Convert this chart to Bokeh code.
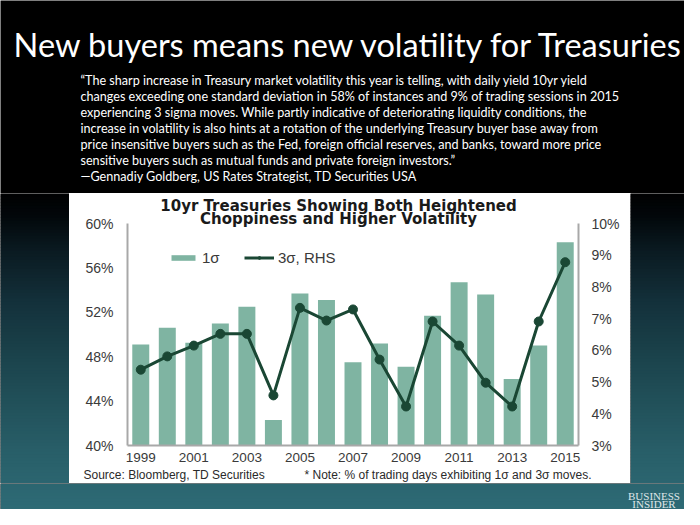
from bokeh.plotting import figure
from bokeh.layouts import column, row
from bokeh.models import (Range1d, LinearAxis, FixedTicker, PrintfTickFormatter, Label,
                          Legend, LegendItem)
from bokeh.embed import file_html
from bokeh.resources import INLINE

# ---------------- data ----------------
years = [1999, 2000, 2001, 2002, 2003, 2004, 2005, 2006, 2007,
         2008, 2009, 2010, 2011, 2012, 2013, 2014, 2015]
one_sigma = [49.1, 50.6, 49.25, 51.0, 52.5, 42.3, 53.7, 53.1, 47.5,
             49.2, 47.1, 51.7, 54.7, 53.6, 46.0, 49.0, 58.3]
three_sigma = [5.39, 5.81, 6.15, 6.52, 6.52, 4.58, 7.34, 6.94, 7.29,
               5.71, 4.23, 6.91, 6.15, 4.98, 4.23, 6.91, 8.78]
left_ticks = [40, 44, 48, 52, 56, 60]
right_ticks = [3, 4, 5, 6, 7, 8, 9, 10]
year_ticks = [1999, 2001, 2003, 2005, 2007, 2009, 2011, 2013, 2015]

title_text = "New buyers means new volatility for Treasuries"
quote_lines = [
    "\u201cThe sharp increase in Treasury market volatility this year is telling, with daily yield 10yr yield",
    "changes exceeding one standard deviation in 58% of instances and 9% of trading sessions in 2015",
    "experiencing 3 sigma moves. While partly indicative of deteriorating liquidity conditions, the",
    "increase in volatility is also hints at a rotation of the underlying Treasury buyer base away from",
    "price insensitive buyers such as the Fed, foreign official reserves, and banks, toward more price",
    "sensitive buyers such as mutual funds and private foreign investors.\u201d",
    "\u2014Gennadiy Goldberg, US Rates Strategist, TD Securities USA",
]
chart_title_lines = ["10yr Treasuries Showing Both Heightened", "Choppiness and Higher Volatility"]
source_text = "Source: Bloomberg, TD Securities"
note_text = "* Note: % of trading days exhibiting 1\u03c3 and 3\u03c3 moves."
brand_lines = ["BUSINESS", "INSIDER"]

# ---------------- layout geometry (page pixels) ----------------
W, H = 684, 509
BOX_L, BOX_R, BOX_T, BOX_B = 69, 630, 193, 483      # white chart panel
FR_L, FR_R, FR_B = 127, 578, 445                    # plot frame edges
Y_TOP_TICK = 223                                    # where 60% / 10% sit
CHART_B = 469                                       # chart figure bottom

BAR_COLOR = "#7fb4a2"
LINE_COLOR = "#1a4734"
AXIS_COLOR = "#a8a8a8"
TICK_TEXT = "#3a3a3a"
AX_FONT = "Liberation Sans"
TXT_FONT = "Lato"

stops = [(190, (0, 0, 0)), (215, (2, 7, 10)), (250, (10, 26, 33)), (300, (19, 48, 58)),
         (350, (26, 65, 74)), (400, (33, 80, 89)), (450, (40, 94, 104)),
         (500, (45, 105, 116)), (530, (47, 110, 121))]


def grad(ry):
    if ry <= stops[0][0]:
        return "#000000"
    for (y0, c0), (y1, c1) in zip(stops[:-1], stops[1:]):
        if y0 <= ry <= y1:
            t = (ry - y0) / (y1 - y0)
            return "#%02x%02x%02x" % tuple(int(round(a + (b - a) * t)) for a, b in zip(c0, c1))
    return "#%02x%02x%02x" % stops[-1][1]


def blank(width, height, x0, x1, y0, y1, bg="#000000"):
    f = figure(width=width, height=height, x_range=Range1d(x0, x1), y_range=Range1d(y1, y0),
               output_backend="svg", toolbar_location=None, min_border=0,
               x_axis_location=None, y_axis_location=None)
    f.frame_align = False
    f.xgrid.grid_line_color = None
    f.ygrid.grid_line_color = None
    f.outline_line_color = None
    f.background_fill_color = bg
    f.border_fill_color = bg
    return f


def paint_gradient(f, x0, x1, y0, y1, step=3):
    tops, bots, cols = [], [], []
    y = y0
    while y < y1:
        tops.append(y)
        bots.append(min(y + step + 0.6, y1))
        cols.append(grad(y + step / 2))
        y += step
    f.quad(left=x0, right=x1, top=tops, bottom=bots, fill_color=cols, line_color=None)


def txt(f, x, y, text, font, size, color, align="left", style="normal", **kw):
    f.add_layout(Label(x=x, y=y, text=text, text_font=font, text_font_size=size,
                       text_color=color, text_align=align, text_baseline="middle",
                       text_font_style=style, **kw))


# ---------------- header ----------------
header = blank(W, BOX_T, 0, W, 0, BOX_T)
txt(header, 349, 43.5, title_text, TXT_FONT, "32.5px", "#ffffff", align="center")
q_mid = [79.5, 95.5, 111.5, 127.5, 143.5, 159.5, 176]
for line, m in zip(quote_lines, q_mid):
    txt(header, 80, m, line, TXT_FONT, "12.6px", "#ffffff")

# ---------------- side gradients ----------------
left_g = blank(BOX_L, BOX_B - BOX_T, 0, BOX_L, BOX_T, BOX_B)
paint_gradient(left_g, 0, BOX_L, BOX_T, BOX_B)
right_g = blank(W - BOX_R, BOX_B - BOX_T, BOX_R, W, BOX_T, BOX_B)
paint_gradient(right_g, BOX_R, W, BOX_T, BOX_B)

# ---------------- footer ----------------
footer = blank(W, H - BOX_B, 0, W, BOX_B, H)
paint_gradient(footer, 0, W, BOX_B, H)
for line, m in zip(brand_lines, [495.5, 503.5]):
    txt(footer, 653.5, m, line, "Liberation Serif", "11px", "#dfe6e8", align="center")

# ---------------- chart ----------------
px_left = (FR_B - Y_TOP_TICK) / (left_ticks[-1] - left_ticks[0])
px_right = (FR_B - Y_TOP_TICK) / (right_ticks[-1] - right_ticks[0])
y_end_left = left_ticks[-1] + (Y_TOP_TICK - BOX_T) / px_left
y_end_right = right_ticks[-1] + (Y_TOP_TICK - BOX_T) / px_right

chart = figure(width=BOX_R - BOX_L, height=CHART_B - BOX_T,
               x_range=Range1d(years[0] - 0.5, years[-1] + 0.5),
               y_range=Range1d(left_ticks[0], y_end_left),
               output_backend="svg", toolbar_location=None,
               min_border_left=FR_L - BOX_L, min_border_right=BOX_R - FR_R,
               min_border_top=0, min_border_bottom=CHART_B - FR_B)
chart.frame_align = False
chart.extra_y_ranges = {"rhs": Range1d(right_ticks[0], y_end_right),
                        "py": Range1d(FR_B, BOX_T)}
chart.extra_x_ranges = {"px": Range1d(FR_L, FR_R)}
chart.border_fill_color = "#ffffff"
chart.background_fill_color = "#ffffff"
chart.outline_line_color = None
chart.xgrid.grid_line_color = None
chart.ygrid.grid_line_color = None

bars = chart.vbar(x=years, top=one_sigma, bottom=left_ticks[0], width=0.64,
                  fill_color=BAR_COLOR, line_color=None)
ln = chart.line(x=years, y=three_sigma, y_range_name="rhs", line_color=LINE_COLOR,
                line_width=3)
pts = chart.scatter(x=years, y=three_sigma, y_range_name="rhs", marker="circle", size=9,
                    fill_color=LINE_COLOR, line_color=LINE_COLOR)


def style_axis(ax):
    ax.axis_line_color = AXIS_COLOR
    ax.axis_line_width = 2
    ax.major_tick_line_color = None
    ax.minor_tick_line_color = None
    ax.major_tick_in = 0
    ax.major_tick_out = 0
    ax.minor_tick_in = 0
    ax.minor_tick_out = 0
    ax.major_label_text_font = AX_FONT
    ax.major_label_text_font_size = "14px"
    ax.major_label_text_color = TICK_TEXT


yl = chart.yaxis[0]
yl.ticker = FixedTicker(ticks=left_ticks)
yl.formatter = PrintfTickFormatter(format="%d%%")
yl.bounds = (left_ticks[0], left_ticks[-1])
style_axis(yl)
yl.major_label_standoff = 14

yr = LinearAxis(y_range_name="rhs", ticker=FixedTicker(ticks=right_ticks),
                formatter=PrintfTickFormatter(format="%d%%"),
                bounds=(right_ticks[0], right_ticks[-1]))
style_axis(yr)
yr.major_label_standoff = 13
chart.add_layout(yr, "right")

xa = chart.xaxis[0]
xa.ticker = FixedTicker(ticks=year_ticks)
xa.formatter = PrintfTickFormatter(format="%d")
style_axis(xa)
xa.major_label_text_font_size = "13.5px"
xa.major_label_standoff = 7

legend = Legend(items=[LegendItem(label="1\u03c3", renderers=[bars]),
                       LegendItem(label="3\u03c3, RHS", renderers=[ln, pts])],
                location=(41, 179), orientation="horizontal", border_line_color=None,
                background_fill_alpha=0, padding=0, margin=0, spacing=22,
                glyph_width=30, glyph_height=7, label_standoff=4, label_height=14,
                label_text_font=AX_FONT, label_text_font_size="15px",
                label_text_color=TICK_TEXT)
chart.add_layout(legend)

for line, m in zip(chart_title_lines, [205.5, 218.5]):
    txt(chart, 338, m, line, "DejaVu Sans", "15px", "#1a1a1a", align="center", style="bold",
        x_range_name="px", y_range_name="py")

# ---------------- source strip ----------------
source = blank(BOX_R - BOX_L, BOX_B - CHART_B, BOX_L, BOX_R, CHART_B, BOX_B, bg="#ffffff")
txt(source, 83, 474, source_text, AX_FONT, "12px", "#2a2a2a")
txt(source, 304, 474, note_text, AX_FONT, "12px", "#2a2a2a")

page = column(header,
              row(left_g, column(chart, source, spacing=0), right_g, spacing=0),
              footer, spacing=0)

open("out.html", "w").write(file_html(page, INLINE))
